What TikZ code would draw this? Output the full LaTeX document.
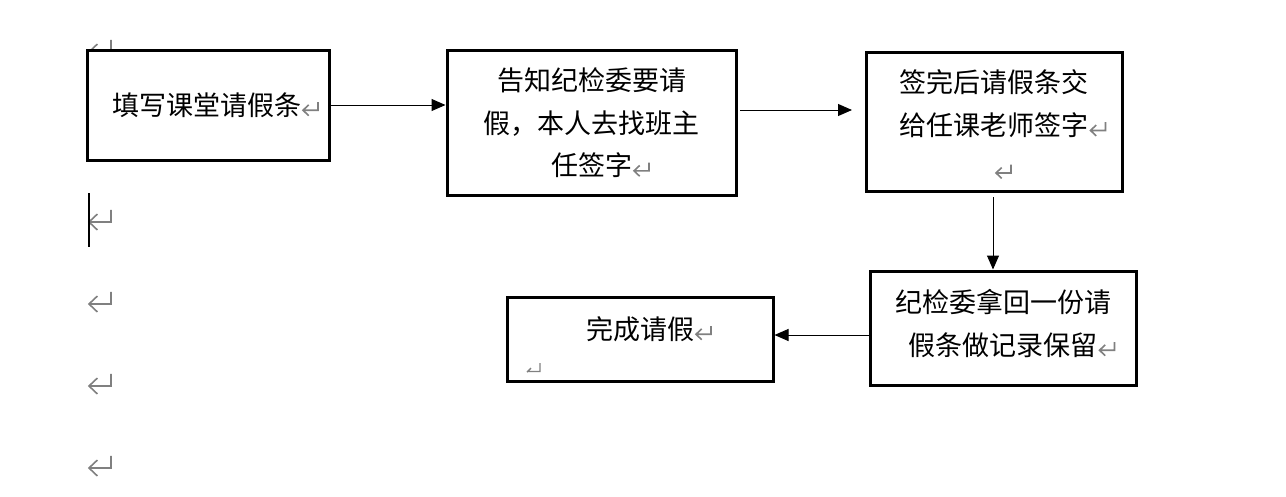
\documentclass[tikz,border=0pt]{standalone}
\usepackage{fontspec}
\newfontfamily\cjk{Noto Sans CJK SC}
\usetikzlibrary{arrows.meta}
\definecolor{markgray}{RGB}{128,128,128}
\tikzset{
  retmark/.pic={
    \draw[markgray, line width=1.6pt, line cap=butt, line join=miter]
      (#1,0.55*#1) -- (#1,0) -- (0,0)
      (0.38*#1,-0.36*#1) -- (0,0) -- (0.38*#1,0.36*#1);
  },
  box/.style={draw=black, line width=3pt, inner sep=0pt, fill=white},
  txt/.style={font={\cjk\fontsize{27}{42.5}\selectfont}, align=center, inner sep=0pt, text=black},
  conn/.style={line width=1pt, -{Triangle[length=14pt,width=12pt]}}
}
\newcommand{\pmark}{\rlap{\kern2pt\tikz[x=1pt,y=1pt,baseline=0pt]{\useasboundingbox (0,0) rectangle (15,10); \pic at (0,5) {retmark=15};}}}
\begin{document}
\begin{tikzpicture}[x=1pt,y=-1pt]
\useasboundingbox (0,0) rectangle (1286,496);
% left paragraph marks
\coordinate (m0) at (89,52);
\coordinate (m1) at (89,222);
\coordinate (m2) at (89,304);
\coordinate (m3) at (89,386);
\coordinate (m4) at (89,468);
\foreach \m in {m0,m1,m2,m3,m4} { \pic[yscale=-1] at (\m) {retmark=22}; }
\draw[line width=2pt] (88.5,193) -- (88.5,247);
% boxes
\node[box, minimum width=242pt, minimum height=110pt] (b1) at (208,105) {};
\node[box, minimum width=289pt, minimum height=145pt] (b2) at (591.5,122.5) {};
\node[box, minimum width=256pt, minimum height=139pt] (b3) at (994,121.5) {};
\node[box, minimum width=266pt, minimum height=114pt] (b4) at (1003,328) {};
\node[box, minimum width=266pt, minimum height=84pt] (b5) at (640,339) {};
% texts
\node[txt] (t1) at (206.5,105) {填写课堂请假条\pmark};
\node[txt] (t2) at (591.5,123) {告知纪检委要请\\假，本人去找班主\\任签字\pmark};
\node[txt] (t3) at (994,124) {签完后请假条交\\给任课老师签字\pmark\\\pmark};
\node[txt] (t4) at (1003,323.5) {纪检委拿回一份请\\假条做记录保留\pmark};
\node[txt] (t5) at (640,329) {完成请假\pmark};
\draw[markgray, line width=1.4pt] (527,372) -- (531,368) (528,371.5) -- (540,371.5) -- (540,363);
% connectors
\coordinate (a2s) at (740,110);
\coordinate (a2e) at (852,110);
\draw[conn] (b1.east) -- (b2.west |- b1.east);
\draw[conn] (a2s) -- (a2e);
\draw[conn] (993,197) -- (b4.north -| 993,0);
\draw[conn] (b4.west |- 0,335) -- (b5.east |- 0,335);
\end{tikzpicture}
\end{document}
